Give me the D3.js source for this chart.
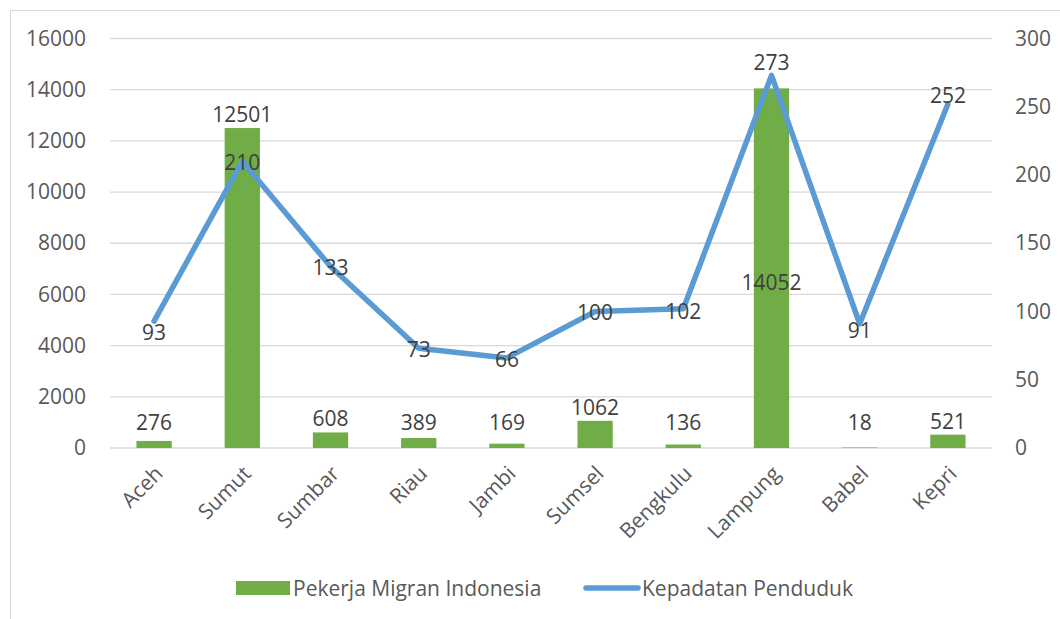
<!DOCTYPE html>
<html><head><meta charset="utf-8">
<script src="https://cdn.jsdelivr.net/npm/d3@7/dist/d3.min.js"></script>
<style>body{margin:0;background:#fff;} svg{display:block;font-family:"Open Sans",sans-serif;}</style>
</head><body>
<svg id="c" width="1060" height="619"></svg>
<script>
const categories = ["Aceh","Sumut","Sumbar","Riau","Jambi","Sumsel","Bengkulu","Lampung","Babel","Kepri"];
const pekerjaMigran = [276,12501,608,389,169,1062,136,14052,18,521];
const kepadatan = [93,210,133,73,66,100,102,273,91,252];
const leftTicks = [0,2000,4000,6000,8000,10000,12000,14000,16000];
const rightTicks = [0,50,100,150,200,250,300];
const seriesNames = ["Pekerja Migran Indonesia","Kepadatan Penduduk"];

// label nudges (px), styling only
const lineLabelNudge = [11.5,1,1,1,1.5,1,3,-12.5,6.5,-8.5];
const barLabelInside = {"Lampung":282.5};

(function(){
const svg = d3.select("#c");
const pL = 110, pR = 992, pT = 38.5, pB = 448;
const green = "#70AD47", blue = "#5B9BD5";
const fs = 21;

svg.append("rect").attr("x",10.5).attr("y",10.5).attr("width",1100).attr("height",700)
  .attr("fill","none").attr("stroke","#d9d9d9").attr("stroke-width",1);

const x = d3.scaleBand().domain(categories).range([pL,pR]).paddingInner(0.6).paddingOuter(0.3);
const xc = d => x(d) + x.bandwidth()/2;
const yL = d3.scaleLinear().domain([0,16000]).range([pB,pT]);
const yR = d3.scaleLinear().domain([0,300]).range([pB,pT]);

svg.append("g").selectAll("line").data(leftTicks).join("line")
  .attr("x1",pL).attr("x2",pR).attr("y1",d=>yL(d)).attr("y2",d=>yL(d))
  .attr("stroke","#d9d9d9").attr("stroke-width",1.3);

const gl = svg.append("g").attr("transform",`translate(${pL},0)`)
  .call(d3.axisLeft(yL).tickValues(leftTicks).tickFormat(d3.format("d")).tickSize(0).tickPadding(24));
gl.select(".domain").remove();
gl.selectAll("text").attr("font-size",fs).attr("fill","#595959").attr("font-family","Open Sans");

const gr = svg.append("g").attr("transform",`translate(${pR},0)`)
  .call(d3.axisRight(yR).tickValues(rightTicks).tickFormat(d3.format("d")).tickSize(0).tickPadding(23));
gr.select(".domain").remove();
gr.selectAll("text").attr("font-size",fs).attr("fill","#595959").attr("font-family","Open Sans");

const gx = svg.append("g").attr("transform",`translate(0,${pB})`)
  .call(d3.axisBottom(x).tickSize(0).tickPadding(0));
gx.select(".domain").remove();
gx.selectAll("text").attr("font-size",fs).attr("fill","#595959").attr("font-family","Open Sans")
  .attr("text-anchor","end").attr("dy",null).attr("y",0)
  .attr("transform","translate(10,27) rotate(-45)");

svg.append("g").selectAll("rect").data(categories).join("rect")
  .attr("x",d=>x(d)).attr("width",x.bandwidth())
  .attr("y",(d,i)=>yL(pekerjaMigran[i])).attr("height",(d,i)=>yL(0)-yL(pekerjaMigran[i]))
  .attr("fill",green);

svg.append("g").selectAll("text").data(categories).join("text")
  .attr("x",d=>xc(d))
  .attr("y",(d,i)=> barLabelInside[d]!==undefined ? barLabelInside[d] : Math.min(yL(pekerjaMigran[i])-6, pB-18))
  .attr("dy",(d)=> barLabelInside[d]!==undefined ? "0.36em" : null)
  .attr("text-anchor","middle").attr("font-size",fs).attr("fill","#404040")
  .text((d,i)=>pekerjaMigran[i]);

const line = d3.line().x((d,i)=>xc(categories[i])).y(d=>yR(d));
svg.append("path").datum(kepadatan).attr("d",line)
  .attr("fill","none").attr("stroke",blue).attr("stroke-width",5.5)
  .attr("stroke-linejoin","round").attr("stroke-linecap","round");

svg.append("g").selectAll("text").data(kepadatan).join("text")
  .attr("x",(d,i)=>xc(categories[i]))
  .attr("y",(d,i)=>yR(d)+lineLabelNudge[i]).attr("dy","0.36em")
  .attr("text-anchor","middle").attr("font-size",fs).attr("fill","#404040")
  .text(d=>d);

const lg = svg.append("g");
lg.append("rect").attr("x",236).attr("y",581).attr("width",54).attr("height",14).attr("fill",green);
lg.append("text").attr("x",293).attr("y",588).attr("dy","0.36em").attr("font-size",fs).attr("fill","#595959").text(seriesNames[0]);
lg.append("line").attr("x1",586).attr("x2",638).attr("y1",588).attr("y2",588)
  .attr("stroke",blue).attr("stroke-width",5.5).attr("stroke-linecap","round");
lg.append("text").attr("x",642).attr("y",588).attr("dy","0.36em").attr("font-size",fs).attr("fill","#595959").text(seriesNames[1]);
})();
</script>
</body></html>
